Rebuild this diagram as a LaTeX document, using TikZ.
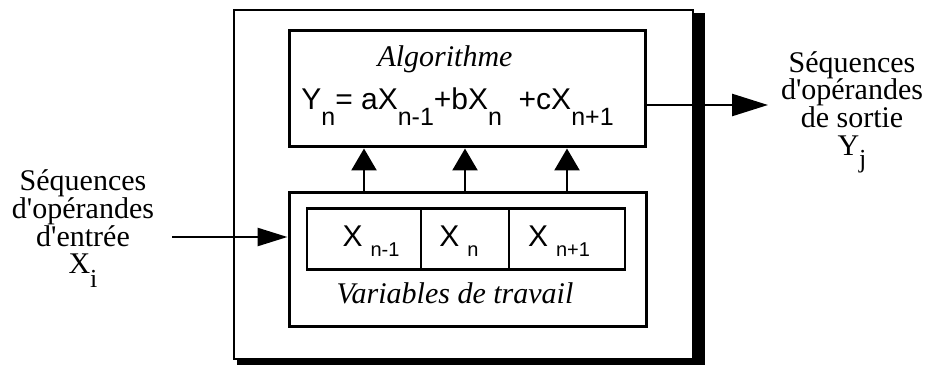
\documentclass[tikz,border=0pt]{standalone}
\usepackage{fontspec}
\setmainfont{Liberation Serif}
\setsansfont{Liberation Sans}
\usetikzlibrary{arrows.meta}
\newcommand{\lowidx}[1]{\raisebox{-16pt}{\fontsize{25}{25}\selectfont #1}}
\newcommand{\cellidx}[1]{\raisebox{-10pt}{\fontsize{20}{20}\selectfont #1}}
\newcommand{\seqidx}[2]{\raisebox{-#1}{\fontsize{26}{26}\selectfont #2}}
\newcommand{\ap}{\textquotesingle}
\begin{document}
\begin{tikzpicture}[x=1pt, y=-1pt, every node/.style={align=center, inner sep=0pt},
  serif/.style={font=\fontsize{30}{27.7}\selectfont},
  slant/.style={font=\fontsize{30}{28}\selectfont\itshape},
  sans/.style={font=\sffamily\fontsize{30}{30}\selectfont},
  box/.style={draw, line width=3pt},
  cell/.style={draw, line width=2.5pt, minimum height=61pt},
  celltext/.style={anchor=base, font=\sffamily\fontsize{30}{30}\selectfont},
  feed/.style={line width=2.6pt, -{Triangle[length=22pt, width=25pt]}}]
  \useasboundingbox (0,0) rectangle (940,366);

  % Processor frame with its shadow
  \fill (237,13) rectangle (705,365);
  \node[draw, fill=white, line width=2.2pt, minimum width=459pt, minimum height=349pt] (frame) at (463.5,184.5) {};

  % Algorithm block
  \node[box, minimum width=356pt, minimum height=116pt] (algo) at (467,89) {};
  \node[slant, anchor=base] (algoname) at (445,67) {Algorithme};
  \node[sans, anchor=base] (formula) at (457.5,110) {Y\lowidx{n}= aX\lowidx{n-1}+bX\lowidx{n}\ \ +cX\lowidx{n+1}};

  % Working variables
  \node[box, minimum width=357pt, minimum height=133pt] (work) at (467.5,259.5) {};
  \node[cell, minimum width=114pt] (xa) at (364,239) {};
  \node[cell, minimum width=88pt] (xb) at (465,239) {};
  \node[cell, minimum width=116pt] (xc) at (567,239) {};
  \node[celltext] (xatxt) at ([xshift=7pt, yshift=-8pt]xa.center) {X\hspace{8pt}\cellidx{n-1}};
  \node[celltext] (xbtxt) at ([xshift=-6pt, yshift=-8pt]xb.center) {X\hspace{8pt}\cellidx{n}};
  \node[celltext] (xctxt) at ([xshift=-8pt, yshift=-8pt]xc.center) {X\hspace{8pt}\cellidx{n+1}};
  \node[slant, anchor=base] (worklbl) at (455,303) {Variables de travail};

  \foreach \c in {xa,xb,xc}
    \draw[feed] (\c |- work.north) -- (\c |- algo.south);

  % Input and output sequences
  \node[serif] (inlbl) at (83,229) {Séquences\\d\ap opérandes\\d\ap entrée\\X\seqidx{14pt}{i}};
  \node[serif] (outlbl) at (852,112) {Séquences\\d\ap opérandes\\de sortie\\Y\seqidx{12pt}{j}};
  \coordinate (src) at (172,237);
  \coordinate (dst) at (768,105);
  \draw[line width=2.6pt, -{Triangle[length=30pt, width=18pt]}] (src) -- (src -| work.west);
  \draw[line width=2.6pt, -{Triangle[length=36pt, width=22pt]}] (algo.east |- dst) -- (dst);
\end{tikzpicture}
\end{document}
